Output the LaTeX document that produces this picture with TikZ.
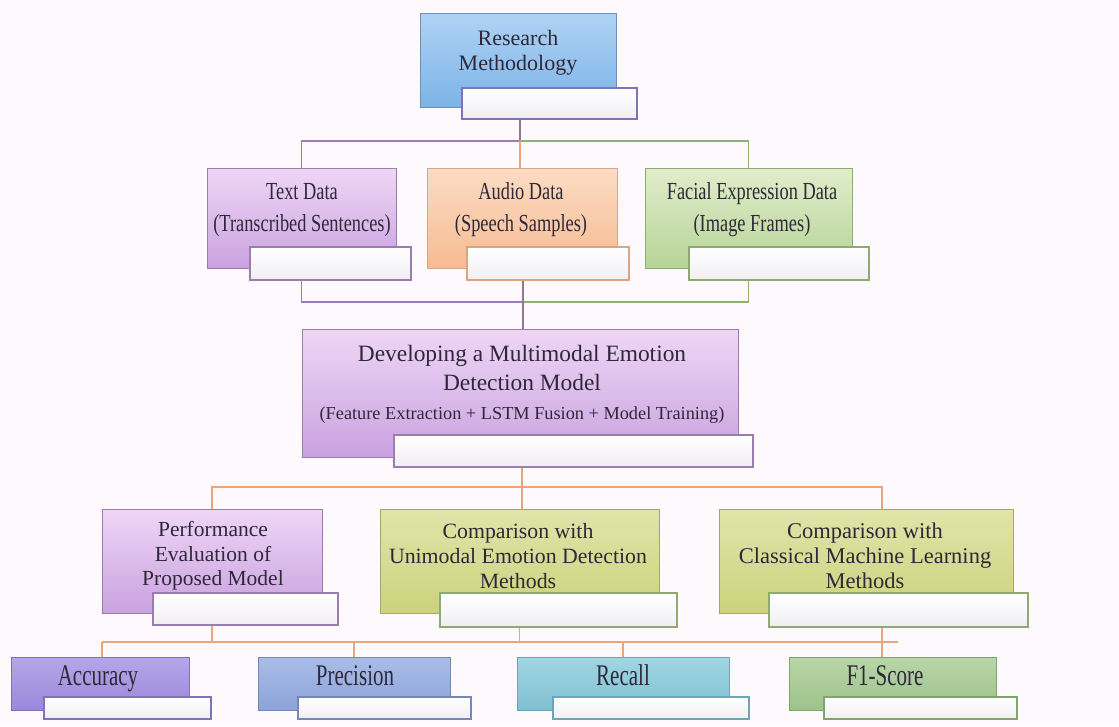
\documentclass[tikz,border=0pt]{standalone}
\usepackage{fontspec}
\setmainfont{Liberation Serif}
\newfontfamily\condfont{Liberation Serif}[FakeStretch=0.75]
\newfontfamily\tallfont{Liberation Serif}[FakeStretch=0.7]

% colours of the boxes
\definecolor{bgcol}{HTML}{FDF9FC}
\definecolor{ink}{HTML}{2E2838}
\definecolor{wbot}{HTML}{F1EEF2}
\definecolor{rmline}{HTML}{6F8FB5}\definecolor{rmtop}{HTML}{AFD3F3}\definecolor{rmbot}{HTML}{7DB3E8}
\definecolor{puline}{HTML}{9C7CB0}\definecolor{putop}{HTML}{EFD6F6}\definecolor{pubot}{HTML}{C9A2DF}
\definecolor{orline}{HTML}{D9A583}\definecolor{ortop}{HTML}{FCDCC4}\definecolor{orbot}{HTML}{F6BB92}
\definecolor{grline}{HTML}{8CAA72}\definecolor{grtop}{HTML}{E0EDCB}\definecolor{grbot}{HTML}{B7D497}
\definecolor{olline}{HTML}{A4A76A}\definecolor{oltop}{HTML}{E2E4AA}\definecolor{olbot}{HTML}{CDD27C}
\definecolor{acline}{HTML}{7E72B8}\definecolor{actop}{HTML}{B4A7E8}\definecolor{acbot}{HTML}{9A88DA}
\definecolor{prline}{HTML}{7487B8}\definecolor{prtop}{HTML}{AABDE8}\definecolor{prbot}{HTML}{8CA3DA}
\definecolor{rcline}{HTML}{6AA6B8}\definecolor{rctop}{HTML}{A2D6E2}\definecolor{rcbot}{HTML}{7FC0D2}
\definecolor{f1line}{HTML}{7FA46C}\definecolor{f1top}{HTML}{B9D6A9}\definecolor{f1bot}{HTML}{9CC28A}
% colours of the connectors
\definecolor{cpurple}{HTML}{9D7DB3}
\definecolor{cgreen}{HTML}{8DB26E}
\definecolor{corange}{HTML}{EDA477}
\definecolor{cdark}{HTML}{97768F}

\begin{document}
\begin{tikzpicture}[x=1pt, y=-1pt,
  box/.style n args={3}{draw=#1, top color=#2, bottom color=#3, line width=1pt, inner sep=0pt},
  wbox/.style={draw=#1, top color=white, bottom color=wbot, line width=1.3pt, inner sep=0pt},
  lbl/.style={text=ink, align=center, inner sep=0pt},
  datalbl/.style={lbl, font=\condfont\fontsize{24.5}{32}\selectfont},
  metriclbl/.style={lbl, font=\tallfont\fontsize{30}{32}\selectfont, text height=20pt, text depth=6pt},
  conn/.style={draw=#1, line width=1.6pt},
]
  \fill[bgcol] (0,0) rectangle (1119,726);

  % Top box
  \node[box={rmline}{rmtop}{rmbot}, minimum width=196pt, minimum height=94pt] (rm) at (518,60) {};
  \node[wbox=acline, minimum width=175pt, minimum height=31pt] (rm-w) at (549.5,103.5) {};
  \node[lbl, font=\fontsize{22}{25}\selectfont] (rm-t) at (518,53) {Research\\Methodology};

  % Data boxes
  \node[box={puline}{putop}{pubot}, minimum width=189pt, minimum height=100pt] (td) at (301.5,218) {};
  \node[wbox=puline, minimum width=161pt, minimum height=33pt] (td-w) at (330.5,263.5) {};
  \node[datalbl] (td-t) at (302,210) {Text Data\\(Transcribed Sentences)};

  \node[box={orline}{ortop}{orbot}, minimum width=190pt, minimum height=100pt] (ad) at (522,218) {};
  \node[wbox=orline, minimum width=162pt, minimum height=33pt] (ad-w) at (548,263.5) {};
  \node[datalbl] (ad-t) at (521,210) {Audio Data\\(Speech Samples)};

  \node[box={grline}{grtop}{grbot}, minimum width=207pt, minimum height=100pt] (fd) at (748.5,218) {};
  \node[wbox=grline, minimum width=180pt, minimum height=33pt] (fd-w) at (779,263.5) {};
  \node[datalbl] (fd-t) at (752,210) {Facial Expression Data\\(Image Frames)};

  % Model box
  \node[box={puline}{putop}{pubot}, minimum width=436pt, minimum height=128pt] (mm) at (520,393) {};
  \node[wbox=puline, minimum width=359pt, minimum height=32pt] (mm-w) at (573.5,451) {};
  \node[lbl, font=\fontsize{23.4}{29}\selectfont] (mm-t) at (522,384)
    {Developing a Multimodal Emotion\\Detection Model\\{\fontsize{18.3}{22}\selectfont (Feature Extraction + LSTM Fusion + Model Training)}};

  % Evaluation boxes
  \node[box={puline}{putop}{pubot}, minimum width=220pt, minimum height=104pt] (pe) at (212,561) {};
  \node[wbox=puline, minimum width=185pt, minimum height=32pt] (pe-w) at (245.5,609) {};
  \node[lbl, font=\fontsize{21.5}{24.5}\selectfont] (pe-t) at (213,556) {Performance\\Evaluation of\\Proposed Model};

  \node[box={olline}{oltop}{olbot}, minimum width=279pt, minimum height=104pt] (cu) at (519.5,561) {};
  \node[wbox=grline, minimum width=237pt, minimum height=34pt] (cu-w) at (558.5,610) {};
  \node[lbl, font=\fontsize{21.8}{25}\selectfont] (cu-t) at (518,556) {Comparison with\\Unimodal Emotion Detection\\Methods};

  \node[box={olline}{oltop}{olbot}, minimum width=294pt, minimum height=104pt] (cc) at (866,561) {};
  \node[wbox=grline, minimum width=259pt, minimum height=34pt] (cc-w) at (898.5,610) {};
  \node[lbl, font=\fontsize{22.5}{25}\selectfont] (cc-t) at (865,556) {Comparison with\\Classical Machine Learning\\Methods};

  % Metric boxes
  \node[box={acline}{actop}{acbot}, minimum width=178pt, minimum height=53pt] (ac) at (100,683.5) {};
  \node[wbox=acline, minimum width=167pt, minimum height=22pt] (ac-w) at (127.5,708) {};
  \node[metriclbl] (ac-t) at (98,678) {Accuracy};

  \node[box={prline}{prtop}{prbot}, minimum width=192pt, minimum height=53pt] (pr) at (354,683.5) {};
  \node[wbox=prline, minimum width=173pt, minimum height=22pt] (pr-w) at (384.5,708) {};
  \node[metriclbl] (pr-t) at (355,678) {Precision};

  \node[box={rcline}{rctop}{rcbot}, minimum width=212pt, minimum height=53pt] (rc) at (623,683.5) {};
  \node[wbox=rcline, minimum width=196pt, minimum height=22pt] (rc-w) at (651,708) {};
  \node[metriclbl] (rc-t) at (623,678) {Recall};

  \node[box={f1line}{f1top}{f1bot}, minimum width=207pt, minimum height=53pt] (f1) at (892.5,683.5) {};
  \node[wbox=f1line, minimum width=193pt, minimum height=22pt] (f1-w) at (920.5,708) {};
  \node[metriclbl] (f1-t) at (885,678) {F1-Score};

  % Connections
  \coordinate (j1) at (520,141);
  \coordinate (j2) at (523,302);
  \coordinate (j3) at (522,487);
  \coordinate (b-l) at (102,642);
  \coordinate (b-r) at (898,642);

  \draw[conn=cdark] (rm-w.south -| j1) -- (j1);
  \draw[conn=cpurple] (j1) -| (td.north);
  \draw[conn=cgreen] (j1) -| (fd.north);
  \draw[conn=corange] (j1) -- (ad.north -| j1);

  \draw[conn=cpurple] (td-w.south -| td.north) |- (j2);
  \draw[conn=cgreen] (fd-w.south -| fd.north) |- (j2);
  \draw[conn=cdark] (ad-w.south -| j2) -- (mm.north -| j2);

  \draw[conn=corange] (mm-w.south -| j3) -- (j3);
  \draw[conn=corange] (j3) -| (pe.north);
  \draw[conn=corange] (j3) -- (cu.north -| j3);
  \draw[conn=corange] (j3) -| ([xshift=16pt]cc.north);

  \draw[conn=corange, line width=2.6pt] (b-l) -- (b-r);
  \draw[conn=corange] (pe-w.south -| pe.north) -- (b-l -| pe.north);
  \draw[conn=corange] (cu-w.south -| cu.north) -- (b-l -| cu.north);
  \draw[conn=corange] ([xshift=16pt]cc-w.south -| cc.north) -- ([xshift=16pt]b-l -| cc.north) -- ([xshift=16pt]f1.north -| cc.north);
  \draw[conn=corange] (b-l) -- (ac.north -| b-l);
  \draw[conn=corange] (b-l -| pr.north) -- (pr.north);
  \draw[conn=corange] (b-l -| rc.north) -- (rc.north);
\end{tikzpicture}
\end{document}
